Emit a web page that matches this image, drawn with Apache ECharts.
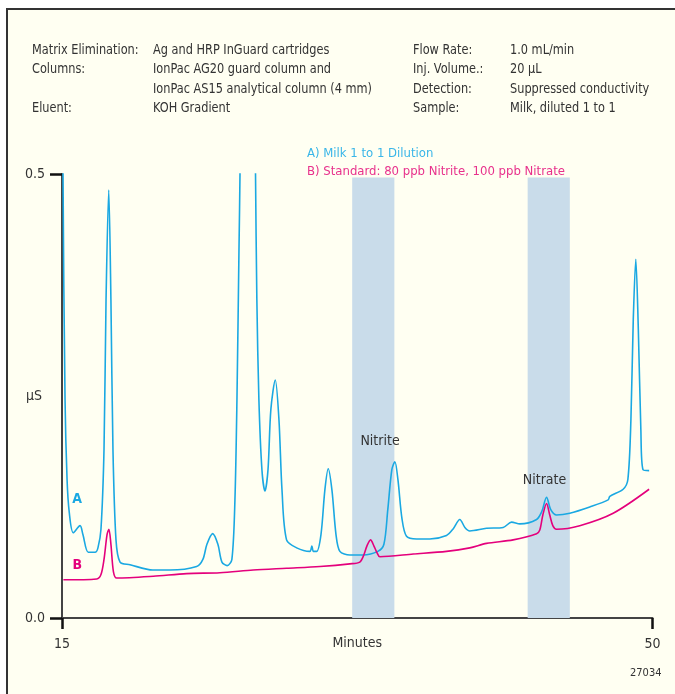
<!DOCTYPE html>
<html>
<head>
<meta charset="utf-8">
<script src="https://cdn.jsdelivr.net/npm/echarts@6/dist/echarts.min.js"></script>
<style>
  html, body { margin: 0; padding: 0; background: #fff; }
  #main { width: 675px; height: 694px; }
</style>
</head>
<body>
<div id="main"></div>
<script>
// retention time (min), conductivity (µS)
const milkTime = [15.0, 15.06, 15.18, 15.30, 15.43, 15.67, 16.07, 16.24, 16.56, 16.96, 17.13, 17.31, 17.49, 17.61, 17.77,
  17.90, 18.02, 18.20, 18.44, 19.03, 20.39, 21.40, 22.98, 23.35, 23.59, 23.93, 24.24, 24.48, 24.79, 25.07, 25.25,
  25.37, 25.49, 25.55, 25.67, 26.02, 26.32, 26.47, 26.55, 26.67, 26.85, 27.03, 27.21, 27.38, 27.64, 27.86, 28.04,
  28.31, 28.91, 29.69, 29.81, 29.90, 30.09, 30.35, 30.58, 30.78, 31.00, 31.24, 31.47, 32.06, 32.83, 33.72, 34.08,
  34.31, 34.55, 34.73, 34.91, 35.15, 35.42, 36.02, 36.80, 37.79, 38.17, 38.58, 38.88, 39.17, 40.16, 41.15, 41.65,
  42.14, 43.13, 43.44, 43.72, 43.97, 44.31, 45.10, 46.28, 47.37, 47.47, 48.26, 48.54, 48.72, 48.86, 49.01, 49.16,
  49.31, 49.44, 49.80];
const milkValue = [0.90, 0.50, 0.246, 0.156, 0.119, 0.096, 0.104, 0.094, 0.074, 0.074, 0.079, 0.100, 0.190, 0.358, 0.482,
  0.358, 0.190, 0.088, 0.063, 0.060, 0.054, 0.054, 0.058, 0.066, 0.083, 0.095, 0.083, 0.063, 0.059, 0.066, 0.133,
  0.246, 0.415, 0.50, 0.80, 0.65, 0.80, 0.50, 0.358, 0.246, 0.167, 0.143, 0.167, 0.235, 0.268, 0.223, 0.144,
  0.088, 0.079, 0.075, 0.081, 0.075, 0.075, 0.094, 0.144, 0.168, 0.144, 0.094, 0.075, 0.071, 0.071, 0.075, 0.083,
  0.122, 0.167, 0.176, 0.156, 0.112, 0.092, 0.089, 0.089, 0.093, 0.100, 0.111, 0.102, 0.098, 0.101, 0.102, 0.108,
  0.106, 0.111, 0.120, 0.136, 0.122, 0.116, 0.118, 0.125, 0.133, 0.137, 0.145, 0.156, 0.223, 0.336, 0.404, 0.325,
  0.212, 0.167, 0.166];

const stdTime = [15.08, 17.06, 17.31, 17.49, 17.67, 17.78, 17.90, 18.05, 18.24, 20.41, 22.39, 24.36, 26.33, 28.31, 30.29,
  32.06, 32.65, 32.89, 33.07, 33.29, 33.49, 33.66, 33.84, 35.82, 37.79, 39.17, 40.16, 41.74, 43.13, 43.32, 43.50,
  43.72, 43.91, 44.09, 44.31, 45.69, 47.67, 49.80];
const stdValue = [0.043, 0.044, 0.049, 0.066, 0.094, 0.100, 0.083, 0.052, 0.045, 0.047, 0.050, 0.051, 0.054, 0.056, 0.058,
  0.061, 0.063, 0.071, 0.081, 0.088, 0.081, 0.074, 0.069, 0.072, 0.075, 0.079, 0.084, 0.088, 0.095, 0.099, 0.116,
  0.129, 0.116, 0.104, 0.100, 0.104, 0.118, 0.145];

// shaded windows (min)
const nitriteBand = [32.2, 34.7];
const nitrateBand = [42.6, 45.1];
const bandTop = 0.496;

const xTicks = [15, 50];
const yTicks = [0, 0.5];

const FONT = "'Liberation Sans Narrow', 'DejaVu Sans Condensed', 'Roboto', sans-serif";
const cyan = '#1aa8e2';
const magenta = '#e4007c';

const zip = (a, b) => a.map((t, i) => [t, b[i]]);

const headerLeft = [
  ['Matrix Elimination:', 'Ag and HRP InGuard cartridges'],
  ['Columns:', 'IonPac AG20 guard column and'],
  ['', 'IonPac AS15 analytical column (4 mm)'],
  ['Eluent:', 'KOH Gradient']
];
const headerRight = [
  ['Flow Rate:', '1.0 mL/min'],
  ['Inj. Volume.:', '20 µL'],
  ['Detection:', 'Suppressed conductivity'],
  ['Sample:', 'Milk, diluted 1 to 1']
];

const headerText = [];
const rowY = [50, 69.5, 89, 108];
const colX = [32, 153, 413, 510];
[headerLeft, headerRight].forEach((rows, side) => {
  rows.forEach((r, i) => {
    r.forEach((s, j) => {
      headerText.push({
        type: 'text', x: colX[side * 2 + j], y: rowY[i], scaleX: 0.9,
        style: { text: s, font: '14px ' + FONT, fill: '#333', verticalAlign: 'middle' }
      });
    });
  });
});

const tag = (text, color, bold) => ({
  show: true, formatter: text, color: color, fontSize: 14, fontFamily: FONT,
  fontWeight: bold ? 'bold' : 'normal'
});

const chart = echarts.init(document.getElementById('main'));
chart.setOption({
  animation: false,
  backgroundColor: '#fff',
  textStyle: { fontFamily: FONT },
  graphic: [
    { type: 'rect', z: -10, shape: { x: 7, y: 9, width: 700, height: 700 },
      style: { fill: '#fffff2', stroke: '#333', lineWidth: 2 } },
    ...headerText,
    { type: 'text', x: 630, y: 673, style: { text: '27034', font: '11px ' + FONT, fill: '#333', verticalAlign: 'middle' } }
  ],
  legend: {
    orient: 'vertical',
    left: 297,
    top: 142,
    icon: 'none',
    itemWidth: 0,
    itemHeight: 14,
    itemGap: 4,
    selectedMode: false,
    textStyle: { fontSize: 13, fontFamily: FONT },
    data: [
      { name: 'A) Milk 1 to 1 Dilution', textStyle: { color: '#3ab6e8' } },
      { name: 'B) Standard: 80 ppb Nitrite, 100 ppb Nitrate', textStyle: { color: '#e8318c' } }
    ]
  },
  grid: { left: 62, right: 22.5, top: 174, bottom: 76, containLabel: false, outerBoundsMode: 'none' },
  xAxis: {
    type: 'value',
    min: 15,
    max: 50,
    name: 'Minutes',
    nameLocation: 'middle',
    nameGap: 18,
    nameMoveOverlap: false,
    nameTextStyle: { fontSize: 14, color: '#333', fontFamily: FONT, verticalAlign: 'top' },
    splitLine: { show: false },
    axisLine: { lineStyle: { color: '#444', width: 2 } },
    axisTick: { customValues: xTicks, length: 11, lineStyle: { color: '#111', width: 2.5 } },
    axisLabel: { customValues: xTicks, margin: 19, fontSize: 14, color: '#333', fontFamily: FONT }
  },
  yAxis: {
    type: 'value',
    min: 0,
    max: 0.5,
    name: 'µS',
    nameLocation: 'middle',
    nameRotate: 0,
    nameGap: 20,
    nameMoveOverlap: false,
    nameTextStyle: { fontSize: 14, color: '#333', fontFamily: FONT, align: 'right' },
    splitLine: { show: false },
    axisLine: { show: true, lineStyle: { color: '#444', width: 2 } },
    axisTick: { show: true, customValues: yTicks, length: 12, lineStyle: { color: '#111', width: 2.5 } },
    axisLabel: { customValues: yTicks, margin: 17, fontSize: 14, color: '#333', fontFamily: FONT,
      formatter: v => v.toFixed(1) }
  },
  series: [
    {
      name: 'A) Milk 1 to 1 Dilution',
      type: 'line',
      data: zip(milkTime, milkValue),
      showSymbol: false,
      smooth: 0.3,
      clip: true,
      z: 3,
      lineStyle: { color: cyan, width: 1.6 },
      itemStyle: { color: cyan },
      markArea: {
        silent: true,
        itemStyle: { color: '#c9dcea' },
        data: [
          [{ xAxis: nitriteBand[0], yAxis: 0 }, { xAxis: nitriteBand[1], yAxis: bandTop }],
          [{ xAxis: nitrateBand[0], yAxis: 0 }, { xAxis: nitrateBand[1], yAxis: bandTop }]
        ]
      },
      markPoint: {
        silent: true,
        symbol: 'rect',
        symbolSize: 1,
        itemStyle: { color: 'rgba(0,0,0,0)' },
        data: [
          { coord: [15.9, 0.134], label: tag('A', cyan, true) },
          { coord: [33.85, 0.199], label: tag('Nitrite', '#333', false) },
          { coord: [43.6, 0.155], label: tag('Nitrate', '#333', false) }
        ]
      }
    },
    {
      name: 'B) Standard: 80 ppb Nitrite, 100 ppb Nitrate',
      type: 'line',
      data: zip(stdTime, stdValue),
      showSymbol: false,
      smooth: 0.3,
      z: 4,
      lineStyle: { color: magenta, width: 1.6 },
      itemStyle: { color: magenta },
      markPoint: {
        silent: true,
        symbol: 'rect',
        symbolSize: 1,
        itemStyle: { color: 'rgba(0,0,0,0)' },
        data: [
          { coord: [15.9, 0.059], label: tag('B', magenta, true) }
        ]
      }
    }
  ]
});
</script>
</body>
</html>
